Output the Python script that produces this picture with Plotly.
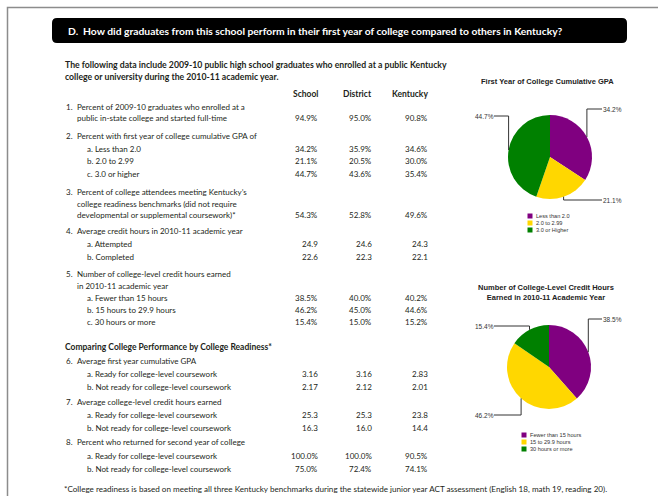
import math
import plotly.graph_objects as go

W, H = 658, 496

# ---------------- data ----------------
title_text = "D.  How did graduates from this school perform in their first year of college compared to others in Kentucky?"
intro_lines = [
    "The following data include 2009-10 public high school graduates who enrolled at a public Kentucky",
    "college or university during the 2010-11 academic year.",
]
columns = ["School", "District", "Kentucky"]

school = [94.9, 34.2, 21.1, 44.7, 54.3, 24.9, 22.6, 38.5, 46.2, 15.4, 3.16, 2.17, 25.3, 16.3, 100.0, 75.0]
district = [95.0, 35.9, 20.5, 43.6, 52.8, 24.6, 22.3, 40.0, 45.0, 15.0, 3.16, 2.12, 25.3, 16.0, 100.0, 72.4]
kentucky = [90.8, 34.6, 30.0, 35.4, 49.6, 24.3, 22.1, 40.2, 44.6, 15.2, 2.83, 2.01, 23.8, 14.4, 90.5, 74.1]
value_formats = (["{:.1f}%"] * 5 + ["{:.1f}"] * 2 + ["{:.1f}%"] * 3
                 + ["{:.2f}"] * 2 + ["{:.1f}"] * 2 + ["{:.1f}%"] * 2)

# (item number, text, index of values or None, is sub item)
rows = [
    ("1.", "Percent of 2009-10 graduates who enrolled at a", None, False),
    ("", "public in-state college and started full-time", 0, False),
    ("2.", "Percent with first year of college cumulative GPA of", None, False),
    ("", "a. Less than 2.0", 1, True),
    ("", "b. 2.0 to 2.99", 2, True),
    ("", "c. 3.0 or higher", 3, True),
    ("3.", "Percent of college attendees meeting Kentucky\u2019s", None, False),
    ("", "college readiness benchmarks (did not require", None, False),
    ("", "developmental or supplemental coursework)*", 4, False),
    ("4.", "Average credit hours in 2010-11 academic year", None, False),
    ("", "a. Attempted", 5, True),
    ("", "b. Completed", 6, True),
    ("5.", "Number of college-level credit hours earned", None, False),
    ("", "in 2010-11 academic year", None, False),
    ("", "a. Fewer than 15 hours", 7, True),
    ("", "b. 15 hours to 29.9 hours", 8, True),
    ("", "c. 30 hours or more", 9, True),
    ("6.", "Average first year cumulative GPA", None, False),
    ("", "a. Ready for college-level coursework", 10, True),
    ("", "b. Not ready for college-level coursework", 11, True),
    ("7.", "Average college-level credit hours earned", None, False),
    ("", "a. Ready for college-level coursework", 12, True),
    ("", "b. Not ready for college-level coursework", 13, True),
    ("8.", "Percent who returned for second year of college", None, False),
    ("", "a. Ready for college-level coursework", 14, True),
    ("", "b. Not ready for college-level coursework", 15, True),
]
section_heading = "Comparing College Performance by College Readiness*"
footnote = ("*College readiness is based on meeting all three Kentucky benchmarks during the statewide "
            "junior year ACT assessment (English 18, math 19, reading 20).")

gpa_title = "First Year of College Cumulative GPA"
gpa_labels = ["Less than 2.0", "2.0 to 2.99", "3.0 or Higher"]
gpa_values = [34.2, 21.1, 44.7]

hours_title = "Number of College-Level Credit Hours<br>Earned in 2010-11 Academic Year"
hours_labels = ["Fewer than 15 hours", "15 to 29.9 hours", "30 hours or more"]
hours_values = [38.5, 46.2, 15.4]

# ---------------- layout / style ----------------
pie_colors = ["#800080", "#FFD700", "#008000"]
row_y = [107, 118, 136, 149, 161, 174, 192, 204, 215, 231, 244, 257, 274, 286, 298, 310, 322,
         361, 374, 387, 402, 415, 428, 442, 456, 469]
col_right = [318, 372, 428]
TXT = "#231f20"
FONT = "Lato, 'Noto Sans', sans-serif"
ARIAL = "'Liberation Sans', Arial, sans-serif"

fig = go.Figure()
annotations = []
shapes = []


def txt(x, y, s, size=8, bold=False, anchor="left", color=TXT, family=FONT):
    annotations.append(dict(
        x=x, y=y, xref="x", yref="y", text=f"<b>{s}</b>" if bold else s,
        showarrow=False, xanchor=anchor, yanchor="middle", align=anchor,
        borderpad=0, borderwidth=0,
        font=dict(size=size, color=color, family=family)))


# page border
shapes.append(dict(type="path", path=f"M 7.5 {H} L 7.5 7.5 L {W} 7.5",
                   line=dict(color="#8c8c8c", width=1.5), xref="x", yref="y"))
# black title box with rounded corners
x0, x1, y0, y1, r = 52, 627, 18, 43, 5
shapes.append(dict(
    type="path", xref="x", yref="y",
    path=(f"M {x0+r} {y0} L {x1-r} {y0} Q {x1} {y0} {x1} {y0+r} L {x1} {y1-r} "
          f"Q {x1} {y1} {x1-r} {y1} L {x0+r} {y1} Q {x0} {y1} {x0} {y1-r} "
          f"L {x0} {y0+r} Q {x0} {y0} {x0+r} {y0} Z"),
    fillcolor="#000000", line=dict(width=0)))
txt(68, 31, title_text, size=10.3, bold=True, color="#ffffff")

for i, line in enumerate(intro_lines):
    txt(65, 64 + i * 12, line, size=8.7, bold=True)
for c, cx in zip(columns, col_right):
    txt(cx, 94, c, size=8.5, bold=True, anchor="right")

for (num, text, vi, sub), y in zip(rows, row_y):
    if num:
        txt(66, y, num)
    txt(87 if sub else 77, y, text)
    if vi is not None:
        for series, cx in zip((school, district, kentucky), col_right):
            txt(cx, y, value_formats[vi].format(series[vi]), anchor="right")

txt(65, 347, section_heading, size=8.5, bold=True)
txt(64, 489, footnote, size=8.1)


def add_pie(values, labels, title, cx, cy, rad, title_y, label_y, legend_x, legend_y):
    fig.add_trace(go.Pie(
        values=values, labels=labels, sort=False, direction="clockwise", rotation=0,
        marker=dict(colors=pie_colors, line=dict(width=0)), textinfo="none",
        hoverinfo="label+percent", showlegend=False,
        domain=dict(x=[(cx - rad) / W, (cx + rad) / W],
                    y=[1 - (cy + rad) / H, 1 - (cy - rad) / H])))
    annotations.append(dict(
        x=cx - 3, y=title_y, xref="x", yref="y", text=f"<b>{title}</b>", showarrow=False,
        xanchor="center", yanchor="middle", align="center", borderpad=0,
        font=dict(size=7.5, color="#222", family=ARIAL)))
    total = sum(values)
    cum = 0
    for v, ly in zip(values, label_y):
        a = (cum + v / 2) / total * 2 * math.pi
        cum += v
        px = cx + rad * math.sin(a)
        py = cy - rad * math.cos(a)
        right = math.sin(a) > 0
        lx = 602 if right else 494
        shapes.append(dict(type="path", xref="x", yref="y",
                           path=f"M {px:.1f} {py:.1f} L {px:.1f} {ly} L {lx} {ly}",
                           line=dict(color="#333333", width=1)))
        txt(lx + (1 if right else 0), ly, f"{v:.1f}%", size=6.5,
            anchor="left" if right else "right", color="#333", family=ARIAL)
    for i, (lab, col) in enumerate(zip(labels, pie_colors)):
        yy = legend_y + i * 7
        shapes.append(dict(type="rect", xref="x", yref="y", x0=legend_x, x1=legend_x + 5,
                           y0=yy - 2.5, y1=yy + 2.5, fillcolor=col, line=dict(width=0)))
        txt(legend_x + 8.5, yy, lab, size=5.6, color="#333", family=ARIAL)


add_pie(gpa_values, gpa_labels, gpa_title, 550, 157, 42, 81, [109, 200, 116], 527.5, 216)
add_pie(hours_values, hours_labels, hours_title, 549, 367, 42, 292, [319, 415, 326], 521.5, 435)

fig.update_layout(
    width=W, height=H, margin=dict(l=0, r=0, t=0, b=0),
    paper_bgcolor="#ffffff", plot_bgcolor="#ffffff",
    xaxis=dict(range=[0, W], visible=False, fixedrange=True),
    yaxis=dict(range=[H, 0], visible=False, fixedrange=True),
    annotations=annotations, shapes=shapes, showlegend=False,
)
fig.write_html("out.html", config={"displayModeBar": False})
